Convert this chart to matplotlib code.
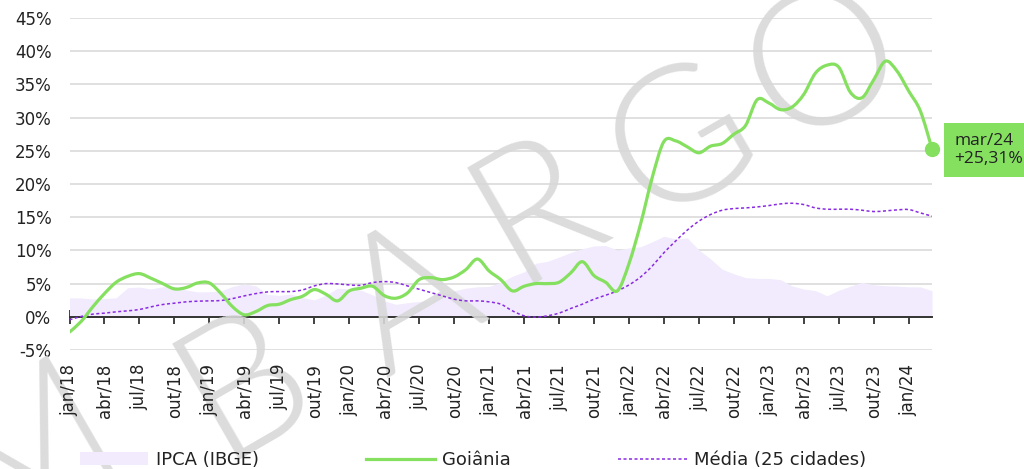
import matplotlib

matplotlib.use("Agg")
import matplotlib.pyplot as plt  # noqa: E402
from matplotlib.lines import Line2D  # noqa: E402
from matplotlib.patches import Patch, PathPatch  # noqa: E402
from matplotlib.path import Path  # noqa: E402

# Acumulado em 12 meses (%), jan/18 a mar/24
MESES = ["jan", "fev", "mar", "abr", "mai", "jun", "jul", "ago", "set", "out", "nov", "dez"]
meses = [f"{MESES[i % 12]}/{18 + i // 12}" for i in range(75)]

ipca = [
    2.86, 2.84, 2.68, 2.76, 2.86, 4.39, 4.48, 4.19, 4.53, 4.56, 4.05, 3.75,
    3.78, 3.89, 4.58, 4.94, 4.66, 3.37, 3.22, 3.43, 2.89, 2.54, 3.27, 4.31,
    4.19, 4.01, 3.30, 2.40, 1.88, 2.13, 2.31, 2.44, 3.14, 3.92, 4.31, 4.52,
    4.56, 5.20, 6.10, 6.76, 8.06, 8.35, 8.99, 9.68, 10.25, 10.67, 10.74, 10.06,
    10.38, 10.54, 11.30, 12.13, 11.73, 11.89, 10.07, 8.73, 7.17, 6.47, 5.90, 5.79,
    5.77, 5.60, 4.65, 4.18, 3.94, 3.16, 3.99, 4.61, 5.19, 4.82, 4.68, 4.62,
    4.51, 4.50, 3.93,
]

goiania = [
    -2.3, -0.7, 1.5, 3.5, 5.2, 6.1, 6.5, 5.8, 5.0, 4.2, 4.4, 5.1,
    5.1, 3.5, 1.5, 0.3, 0.8, 1.7, 1.9, 2.6, 3.1, 4.1, 3.4, 2.4,
    3.9, 4.3, 4.6, 3.2, 2.8, 3.6, 5.6, 5.9, 5.6, 6.0, 7.1, 8.7,
    6.9, 5.6, 3.9, 4.6, 5.0, 5.0, 5.2, 6.6, 8.3, 6.2, 5.2, 3.9,
    8.0, 14.0, 21.0, 26.4, 26.5, 25.6, 24.7, 25.7, 26.1, 27.5, 28.8, 32.7,
    32.2, 31.2, 31.6, 33.5, 36.7, 37.9, 37.6, 33.8, 33.0, 35.7, 38.5, 37.0,
    34.0, 31.0, 25.31,
]

media = [
    -0.45, 0.05, 0.4, 0.55, 0.75, 0.9, 1.1, 1.5, 1.85, 2.05, 2.25, 2.35,
    2.4, 2.45, 2.75, 3.15, 3.5, 3.75, 3.8, 3.8, 4.05, 4.65, 5.0, 4.95,
    4.8, 4.75, 5.15, 5.3, 5.15, 4.65, 4.15, 3.65, 3.15, 2.65, 2.4, 2.4,
    2.25, 1.9, 0.9, 0.15, -0.05, 0.15, 0.55, 1.25, 1.9, 2.65, 3.25, 3.9,
    4.8, 6.0, 7.65, 9.65, 11.4, 13.05, 14.4, 15.4, 16.05, 16.3, 16.4, 16.55,
    16.75, 17.0, 17.1, 16.9, 16.4, 16.2, 16.2, 16.2, 16.05, 15.85, 15.95, 16.1,
    16.15, 15.65, 15.15,
]

rotulos = ["IPCA (IBGE)", "Goiânia", "Média (25 cidades)"]
marca = ["M", "B", "A", "R", "G", "O"]
marca_pos = [(28, 450), (245, 385), (412, 302), (538, 210), (683, 143), (826, 64)]

COR_IPCA = "#f1ebfd"
COR_GYN = "#86e060"
COR_MEDIA = "#8a2be2"
COR_TEXTO = "#222222"

W, H = 1024, 469


def curva(xs, ys):
    """Catmull-Rom path through the monthly points, as cubic Bezier segments."""
    pts = list(zip(xs, ys))
    verts = [pts[0]]
    codes = [Path.MOVETO]
    for i in range(len(pts) - 1):
        p0 = pts[max(i - 1, 0)]
        p1, p2 = pts[i], pts[i + 1]
        p3 = pts[min(i + 2, len(pts) - 1)]
        c1 = (p1[0] + (p2[0] - p0[0]) / 6, p1[1] + (p2[1] - p0[1]) / 6)
        c2 = (p2[0] - (p3[0] - p1[0]) / 6, p2[1] - (p3[1] - p1[1]) / 6)
        verts += [c1, c2, p2]
        codes += [Path.CURVE4] * 3
    return Path(verts, codes)


x = list(range(len(meses)))

fig = plt.figure(figsize=(W / 100, H / 100), dpi=100)
ax = fig.add_axes([69.5 / W, 1 - 350 / H, (932 - 69.5) / W, (350 - 18) / H])

ax.fill_between(x, 0, ipca, color=COR_IPCA, lw=0, zorder=1)
ax.add_patch(PathPatch(curva(x, media), fill=False, ec=COR_MEDIA, lw=1.1,
                       ls=(0, (2, 1.6)), zorder=4))
ax.add_patch(PathPatch(curva(x, goiania), fill=False, ec=COR_GYN, lw=2.3,
                       joinstyle="round", capstyle="round", zorder=5))
ax.plot(x[-1], goiania[-1], "o", color=COR_GYN, ms=10, clip_on=False, zorder=6)

# marca d'agua
for letra, (px, py) in zip(marca, marca_pos):
    ax.text(px / W, 1 - py / H, letra, transform=fig.transFigure, fontsize=136,
            family=["Lato", "DejaVu Sans"], fontweight=300, rotation=30,
            rotation_mode="anchor", ha="center", va="center",
            color="#d8d8d8", alpha=0.9, zorder=2.8, clip_on=False)

ax.set_xlim(0, len(meses) - 1)
ax.set_ylim(-5, 45)

ax.set_yticks(range(-5, 50, 5))
ax.set_yticklabels([f"{v}%" for v in range(-5, 50, 5)])
ax.tick_params(axis="y", length=0, pad=13, labelsize=12, labelcolor=COR_TEXTO)
ax.yaxis.grid(True, color="#dddddd", lw=1.3)
ax.set_axisbelow(True)

for lado in ["top", "right", "left"]:
    ax.spines[lado].set_visible(False)
ax.spines["bottom"].set_position(("data", 0))
ax.spines["bottom"].set_color("#333333")
ax.spines["bottom"].set_linewidth(1.4)
ax.spines["bottom"].set_zorder(2)

ticks = x[::3]
ax.set_xticks(ticks)
ax.tick_params(axis="x", direction="inout", length=10, width=1.3,
               color="#333333", labelbottom=False)

sec = ax.secondary_xaxis("bottom")
sec.set_xticks(ticks, labels=[meses[i] for i in ticks])
sec.tick_params(length=0, pad=10, labelsize=12, labelcolor=COR_TEXTO, labelrotation=90)
sec.spines["bottom"].set_visible(False)
sec.set_zorder(3)

valor = goiania[-1]
fig.text(954 / W, 1 - 150 / H, f"{meses[-1]}\n+{valor:.2f}%".replace(".", ","),
         ha="left", va="center", fontsize=12.5, family=["Open Sans", "DejaVu Sans"],
         color=COR_TEXTO, linespacing=1.2,
         bbox=dict(boxstyle="square,pad=0.55", fc=COR_GYN, ec="none"))

handles = [
    Patch(facecolor=COR_IPCA, edgecolor="none"),
    Line2D([], [], color=COR_GYN, lw=2.3),
    Line2D([], [], color=COR_MEDIA, lw=1.1, ls=(0, (2, 1.6))),
]
fig.legend(handles, rotulos, loc="center", bbox_to_anchor=(473 / W, 1 - 460 / H),
           ncol=3, frameon=False, fontsize=13, labelcolor=COR_TEXTO,
           handlelength=3.8, handletextpad=0.4, columnspacing=5.95)

fig.savefig("out.png", dpi=100)
plt.close(fig)
